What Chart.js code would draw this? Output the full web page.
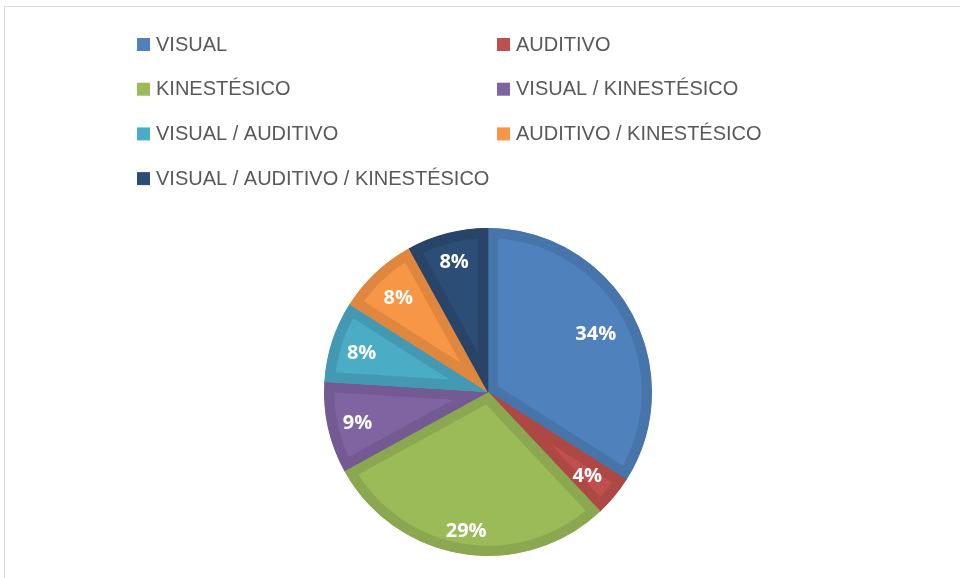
<!DOCTYPE html>
<html>
<head>
<meta charset="utf-8">
<script src="https://cdn.jsdelivr.net/npm/chart.js@4"></script>
<style>
  html, body { margin: 0; padding: 0; background: #fff; }
  #wrap { position: absolute; left: 0; top: 0; width: 960px; height: 578px; }
  #frame { position: absolute; left: 4px; top: 6px; right: -2px; bottom: -2px; border: 1px solid #d9d9d9; }
</style>
</head>
<body>
<div id="wrap">
  <div id="frame"></div>
  <canvas id="chart_pie" width="960" height="578"></canvas>
</div>
<script>
const labels = ['VISUAL', 'AUDITIVO', 'KINESTÉSICO', 'VISUAL / KINESTÉSICO', 'VISUAL / AUDITIVO', 'AUDITIVO / KINESTÉSICO', 'VISUAL / AUDITIVO / KINESTÉSICO'];
const values = [34, 4, 29, 9, 8, 8, 8];
const fills = ['#4f81bd', '#c0504d', '#9bbb59', '#8064a2', '#4bacc6', '#f79646', '#2c4d75'];
const edges = ['#4774a9', '#ad4845', '#8ba850', '#735a92', '#4399b1', '#df863f', '#284569'];
// how far out each % label sits (fraction of radius), like excel best fit
const labelPos = [0.75, 0.785, 0.85, 0.815, 0.81, 0.80, 0.83];

// two column legend like the office one
const legendPlugin = {
  id: 'twoColLegend',
  afterDraw(chart) {
    const ctx = chart.ctx;
    ctx.save();
    ctx.font = '20px "Liberation Sans"';
    ctx.textBaseline = 'middle';
    chart.data.labels.forEach((lab, i) => {
      const x = i % 2 === 0 ? 137 : 497;
      const y = 44 + Math.floor(i / 2) * 44.7;
      ctx.fillStyle = fills[i];
      ctx.fillRect(x, y - 6, 13, 13);
      ctx.fillStyle = '#595959';
      ctx.fillText(lab, x + 19, y + 1);
    });
    ctx.restore();
  }
};

const pctPlugin = {
  id: 'pctLabels',
  afterDatasetsDraw(chart) {
    const ctx = chart.ctx;
    const meta = chart.getDatasetMeta(0);
    ctx.save();
    ctx.font = 'bold 20px "Open Sans"';
    ctx.fillStyle = '#ffffff';
    ctx.textAlign = 'center';
    ctx.textBaseline = 'middle';
    meta.data.forEach((arc, i) => {
      const mid = (arc.startAngle + arc.endAngle) / 2;
      const r = arc.outerRadius * labelPos[i];
      ctx.fillText(values[i] + '%', arc.x + Math.cos(mid) * r, arc.y + Math.sin(mid) * r + 2);
    });
    ctx.restore();
  }
};

new Chart(document.getElementById('chart_pie'), {
  type: 'pie',
  data: {
    labels: labels,
    datasets: [{
      data: values,
      backgroundColor: fills,
      borderColor: edges,
      borderWidth: 10,
      borderAlign: 'inner',
      borderJoinStyle: 'miter'
    }]
  },
  options: {
    responsive: false,
    animation: false,
    layout: { padding: { top: 228, bottom: 22, left: 16, right: 0 } },
    plugins: {
      legend: { display: false },
      tooltip: { enabled: false }
    }
  },
  plugins: [legendPlugin, pctPlugin]
});
</script>
</body>
</html>
